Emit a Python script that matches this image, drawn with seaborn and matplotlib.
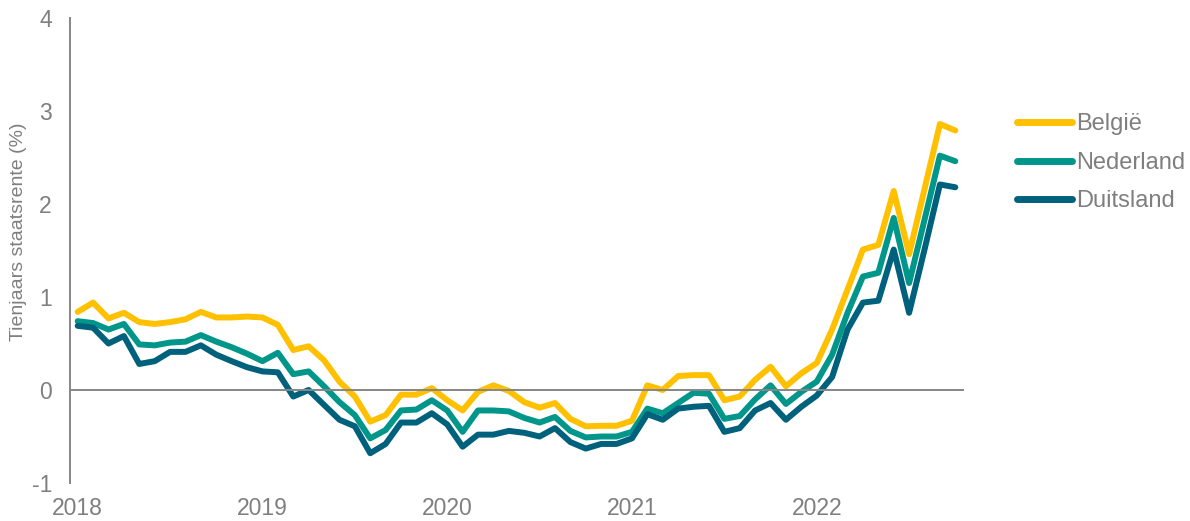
import pandas as pd
import seaborn as sns
import matplotlib.pyplot as plt
import matplotlib.transforms as mtransforms

maanden = pd.date_range('2018-01-01', '2022-10-01', freq='MS')
belgie = [0.84, 0.94, 0.77, 0.83, 0.73, 0.71, 0.73, 0.76, 0.84, 0.78, 0.78, 0.79,
          0.78, 0.70, 0.43, 0.47, 0.32, 0.09, -0.07, -0.34, -0.27, -0.05, -0.05, 0.02,
          -0.11, -0.22, -0.02, 0.05, -0.01, -0.13, -0.19, -0.14, -0.31, -0.39, -0.385, -0.385,
          -0.33, 0.05, 0.0, 0.15, 0.16, 0.16, -0.11, -0.07, 0.11, 0.25, 0.04, 0.18,
          0.29, 0.65, 1.08, 1.51, 1.56, 2.14, 1.46, 2.16, 2.86, 2.79]
nederland = [0.74, 0.72, 0.65, 0.71, 0.49, 0.48, 0.51, 0.52, 0.59, 0.52, 0.46, 0.39,
             0.31, 0.40, 0.17, 0.20, 0.04, -0.13, -0.27, -0.52, -0.43, -0.22, -0.21, -0.11,
             -0.22, -0.45, -0.22, -0.22, -0.23, -0.30, -0.35, -0.29, -0.44, -0.51, -0.50, -0.50,
             -0.45, -0.20, -0.25, -0.14, -0.03, -0.04, -0.31, -0.28, -0.10, 0.05, -0.15, -0.02,
             0.09, 0.38, 0.83, 1.22, 1.26, 1.85, 1.15, 1.83, 2.52, 2.46]
duitsland = [0.69, 0.67, 0.50, 0.58, 0.28, 0.31, 0.41, 0.41, 0.48, 0.38, 0.31, 0.245,
             0.20, 0.19, -0.07, 0.0, -0.16, -0.32, -0.39, -0.68, -0.58, -0.35, -0.35, -0.25,
             -0.37, -0.61, -0.48, -0.48, -0.44, -0.46, -0.50, -0.41, -0.56, -0.63, -0.58, -0.58,
             -0.52, -0.26, -0.32, -0.20, -0.18, -0.17, -0.45, -0.41, -0.22, -0.14, -0.32, -0.18,
             -0.06, 0.14, 0.65, 0.94, 0.96, 1.51, 0.83, 1.51, 2.21, 2.18]
landen = ['België', 'Nederland', 'Duitsland']
kleuren = {'België': '#FFC000', 'Nederland': '#00968A', 'Duitsland': '#00617C'}
jaren = ['2018', '2019', '2020', '2021', '2022']

n = len(maanden)
df = pd.DataFrame({
    'maand': list(range(n)) * 3,
    'rente': belgie + nederland + duitsland,
    'land': [l for l in landen for _ in range(n)],
})

sns.set_style('white')
plt.rcParams['font.family'] = ['Liberation Sans', 'DejaVu Sans']
grijs = '#7f7f7f'

fig = plt.figure(figsize=(11.9, 5.21), dpi=100)
ax = fig.add_axes([70 / 1190, 38 / 521, 893 / 1190, 465 / 521])

sns.lineplot(data=df, x='maand', y='rente', hue='land', hue_order=landen,
             palette=kleuren, linewidth=4.3, ax=ax)

ax.set_xlim(-0.5, n - 0.5)
ax.set_ylim(-1, 4)
ax.set_yticks(range(-1, 5))
ax.set_yticklabels([str(v) for v in range(-1, 5)])

# x-as op nul, maandgrenzen als tickjes
ax.spines['bottom'].set_position(('data', 0))
ax.spines['top'].set_visible(False)
ax.spines['right'].set_visible(False)
for s in ['left', 'bottom']:
    ax.spines[s].set_color('#868686')
    ax.spines[s].set_linewidth(1.4)
grenzen = [12 * k - 0.5 for k in range(1, len(jaren))]
ax.set_xticks(grenzen)
ax.set_xticklabels([''] * len(grenzen))
ax.tick_params(axis='x', direction='out', length=5, width=1.4, color='#868686')
ax.tick_params(axis='y', direction='out', length=5, width=1.4, color='#868686',
               labelsize=16.5, labelcolor=grijs, pad=8)

trans = mtransforms.blended_transform_factory(ax.transData, ax.transAxes)
for k, jaar in enumerate(jaren):
    ax.text(12 * k, -0.069, jaar, transform=trans, ha='center', va='baseline',
            fontsize=16.5, color=grijs)

ax.set_xlabel('')
ax.set_ylabel('Tienjaars staatsrente (%)', fontsize=14, color=grijs)
ax.yaxis.set_label_coords(-0.048, 0.54)

leg = ax.legend(loc='upper left', bbox_to_anchor=(1.061, 0.795), frameon=False,
                fontsize=17, handlelength=2.3, handletextpad=0.2,
                labelspacing=0.7, borderpad=0, borderaxespad=0)
for t in leg.get_texts():
    t.set_color(grijs)
for h in leg.get_lines():
    h.set_linewidth(5)
    h.set_solid_capstyle('round')

fig.savefig('out.png', dpi=100)
